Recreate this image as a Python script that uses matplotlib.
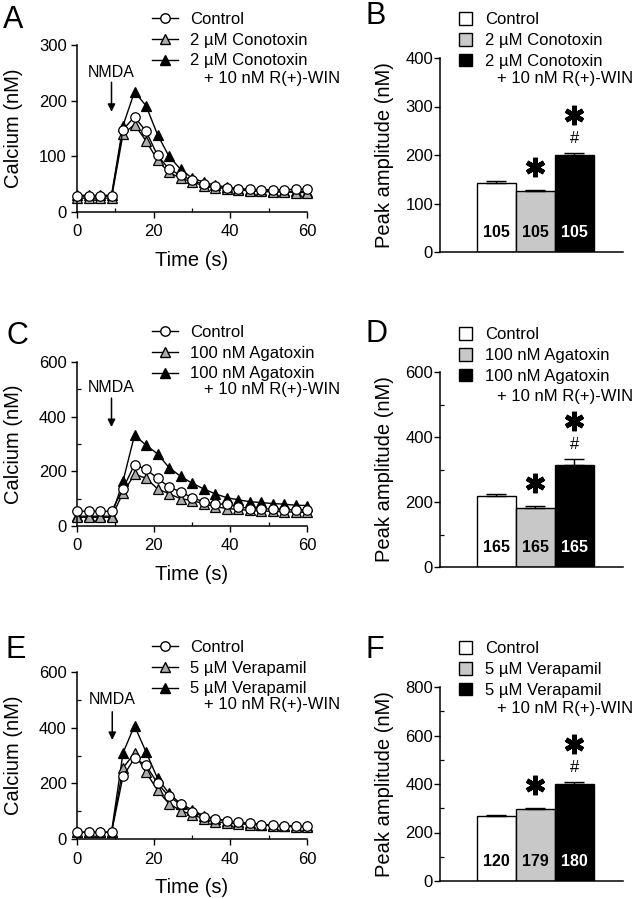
import numpy as np
import matplotlib
matplotlib.use("Agg")
import matplotlib.pyplot as plt
from matplotlib.lines import Line2D
from matplotlib.patches import Patch
from matplotlib.ticker import MultipleLocator

plt.rcParams['font.family'] = ['Liberation Sans', 'DejaVu Sans']

# ---------------- data ----------------
time_s = np.arange(0, 61, 3)

ctrl_A = [28, 28, 28, 28, 148, 171, 145, 102, 77, 66, 57, 50, 46, 44, 42, 41, 40, 40, 40, 41, 41]
cono_A = [25, 25, 25, 25, 140, 157, 128, 93, 71, 61, 54, 47, 44, 42, 40, 38, 37, 36, 36, 35, 35]
win_A = [30, 30, 30, 30, 155, 216, 191, 139, 100, 77, 61, 54, 48, 45, 42, 40, 39, 38, 37, 37, 36]

ctrl_C = [54, 54, 54, 54, 136, 225, 207, 175, 143, 125, 104, 89, 82, 79, 71, 64, 63, 62, 60, 59, 60]
aga_C = [32, 32, 32, 32, 121, 189, 175, 136, 118, 100, 93, 82, 71, 64, 61, 57, 55, 54, 52, 51, 50]
win_C = [36, 36, 36, 36, 164, 332, 296, 264, 214, 182, 157, 136, 118, 104, 96, 89, 86, 82, 80, 76, 75]

ctrl_E = [24, 24, 24, 24, 225, 290, 265, 200, 153, 124, 98, 80, 73, 65, 60, 56, 52, 50, 48, 46, 45]
vera_E = [24, 24, 24, 24, 255, 309, 240, 175, 127, 102, 87, 73, 62, 58, 55, 52, 50, 48, 46, 44, 43]
win_E = [24, 24, 24, 24, 309, 407, 313, 218, 164, 127, 105, 84, 73, 65, 60, 56, 52, 50, 48, 46, 45]

peak_B = [142, 125, 201]
err_B = [4, 3, 4]
n_B = ["105", "105", "105"]

peak_D = [218, 182, 314]
err_D = [8, 6, 18]
n_D = ["165", "165", "165"]

peak_F = [266, 295, 400]
err_F = [5, 4, 8]
n_F = ["120", "179", "180"]

labels_A = ["Control", "2 \u00b5M Conotoxin", "2 \u00b5M Conotoxin"]
labels_C = ["Control", "100 nM Agatoxin", "100 nM Agatoxin"]
labels_E = ["Control", "5 \u00b5M Verapamil", "5 \u00b5M Verapamil"]
win_label = "+ 10 nM R(+)-WIN"

# ---------------- figure ----------------
W, H = 634, 899
fig = plt.figure(figsize=(W / 100, H / 100), dpi=100)

def fx(px):
    return px / W

def fy(py):
    return 1 - py / H

def add_ax(x0, x1, ytop, ybot):
    return fig.add_axes([fx(x0), fy(ybot), fx(x1) - fx(x0), (ybot - ytop) / H])

TICK_FS = 12
LAB_FS = 14.5
LEG_FS = 12
GRAY = '#acacac'
BARGRAY = '#c8c8c8'

def style_axes(ax, ypad):
    for s in ['top', 'right']:
        ax.spines[s].set_visible(False)
    for s in ['left', 'bottom']:
        ax.spines[s].set_linewidth(1.1)
    ax.tick_params(which='major', direction='out', length=4, width=1.0, labelsize=TICK_FS)
    ax.tick_params(axis='y', which='major', pad=ypad)
    ax.tick_params(axis='x', which='major', pad=5)
    ax.tick_params(which='minor', direction='in', length=3, width=0.9)

def line_panel(ax, series, ymax, ymajor, yminor, labels, nmda, legrows, contpos, letter, letterpos):
    c, t, w = series
    kw = dict(color='black', lw=1.0, ms=6.8, mec='black', mew=0.9, clip_on=False)
    ax.plot(time_s, c, '-', marker='o', mfc='white', zorder=3, **kw)
    ax.plot(time_s, t, '-', marker='^', mfc=GRAY, zorder=2, **kw)
    ax.plot(time_s, w, '-', marker='^', mfc='black', zorder=1, **kw)
    ax.set_xlim(0, 60)
    ax.set_ylim(0, ymax)
    ax.xaxis.set_major_locator(MultipleLocator(20))
    ax.xaxis.set_minor_locator(MultipleLocator(10))
    ax.yaxis.set_major_locator(MultipleLocator(ymajor))
    if yminor:
        ax.yaxis.set_minor_locator(MultipleLocator(yminor))
    style_axes(ax, 3.5)
    ax.set_xlabel("Time (s)", fontsize=LAB_FS, labelpad=8)
    ax.set_ylabel("Calcium (nM)", fontsize=LAB_FS, labelpad=11)
    tx, ty, a0, a1 = nmda
    ax.annotate("", xy=(tx, a1), xytext=(tx, a0),
                arrowprops=dict(arrowstyle='-|>', color='black', lw=1.1, mutation_scale=11,
                                shrinkA=0, shrinkB=0))
    ax.text(tx, ty, "NMDA", ha='center', va='center', fontsize=11.5)
    handles = [Line2D([], [], color='black', lw=1.0, marker='o', ms=6.8, mfc='white', mec='black'),
               Line2D([], [], color='black', lw=1.0, marker='^', ms=6.8, mfc=GRAY, mec='black'),
               Line2D([], [], color='black', lw=1.0, marker='^', ms=6.8, mfc='black', mec='black')]
    hx, ry = legrows
    ax.legend(handles, labels, loc='upper left', bbox_to_anchor=(fx(hx), fy(ry - 8)),
              bbox_transform=fig.transFigure, frameon=False, fontsize=LEG_FS,
              borderpad=0, borderaxespad=0, handlelength=1.55, handletextpad=0.75,
              labelspacing=0.34, numpoints=1)
    fig.text(fx(contpos[0]), fy(contpos[1]), win_label, fontsize=LEG_FS, va='center', ha='left')
    fig.text(fx(letterpos[0]), fy(letterpos[1]), letter, fontsize=22, va='center', ha='left')

def bar_panel(ax, peaks, errs, ns, ymax, ymajor, yminor, labels, legrows, contpos, letter, letterpos):
    pos = [1, 2, 3]
    cols = ['white', BARGRAY, 'black']
    ax.bar(pos, peaks, width=1.0, color=cols, edgecolor='black', linewidth=1.0, zorder=2)
    ax.errorbar(pos, peaks, yerr=[[0, 0, 0], errs], fmt='none', ecolor='black', elinewidth=1.0,
                capsize=7.5, capthick=1.0, zorder=3)
    ax.set_xlim(-0.45, 4.25)
    ax.set_ylim(0, ymax)
    ax.set_xticks([])
    ax.yaxis.set_major_locator(MultipleLocator(ymajor))
    if yminor:
        ax.yaxis.set_minor_locator(MultipleLocator(yminor))
    style_axes(ax, 1)
    ax.set_ylabel("Peak amplitude (nM)", fontsize=LAB_FS, labelpad=8)
    tcol = ['black', 'black', 'white']
    for p, n, c in zip(pos, ns, tcol):
        ax.text(p, 0.1, n, transform=ax.get_xaxis_transform(), ha='center', va='center',
                fontsize=11.5, fontweight='bold', color=c)
    ax.plot([pos[1]], [peaks[1] + errs[1] + ymax * 0.12], marker=(6, 2, 0), ms=14, mew=3.4,
            color='black', clip_on=False)
    ax.text(pos[2], peaks[2] + errs[2] + ymax * 0.075, "#", ha='center', va='center', fontsize=12)
    ax.plot([pos[2]], [peaks[2] + errs[2] + ymax * 0.195], marker=(6, 2, 0), ms=14, mew=3.4,
            color='black', clip_on=False)
    handles = [Patch(facecolor=c, edgecolor='black', linewidth=1.0) for c in cols]
    hx, ry = legrows
    ax.legend(handles, labels, loc='upper left', bbox_to_anchor=(fx(hx), fy(ry - 8)),
              bbox_transform=fig.transFigure, frameon=False, fontsize=LEG_FS,
              borderpad=0, borderaxespad=0, handlelength=0.8, handleheight=0.8, handletextpad=0.75,
              labelspacing=0.34)
    fig.text(fx(contpos[0]), fy(contpos[1]), win_label, fontsize=LEG_FS, va='center', ha='left')
    fig.text(fx(letterpos[0]), fy(letterpos[1]), letter, fontsize=22, va='center', ha='left')

axA = add_ax(77, 307, 45, 212)
line_panel(axA, (ctrl_A, cono_A, win_A), 300, 100, None, labels_A,
           (9, 251, 233, 180), (152, 20), (204, 78), "A", (3, 20))

axC = add_ax(77, 307, 362, 526)
line_panel(axC, (ctrl_C, aga_C, win_C), 600, 200, 100, labels_C,
           (9, 508, 468, 362), (152, 333), (204, 390), "C", (6, 336))

axE = add_ax(77, 307, 672, 839)
line_panel(axE, (ctrl_E, vera_E, win_E), 600, 200, 100, labels_E,
           (9.2, 500, 457, 356), (152, 648), (204, 705), "E", (6, 650))

axB = add_ax(440, 623, 58, 252)
bar_panel(axB, peak_B, err_B, n_B, 400, 100, None, labels_A, (459, 20), (497, 78), "B", (366, 16))

axD = add_ax(440, 623, 372, 567)
bar_panel(axD, peak_D, err_D, n_D, 600, 200, 100, labels_C, (459, 335), (497, 397), "D", (366, 334))

axF = add_ax(440, 623, 687, 881)
bar_panel(axF, peak_F, err_F, n_F, 800, 200, 100, labels_E, (459, 649), (497, 708), "F", (366, 650))

fig.savefig("out.png", dpi=100)
